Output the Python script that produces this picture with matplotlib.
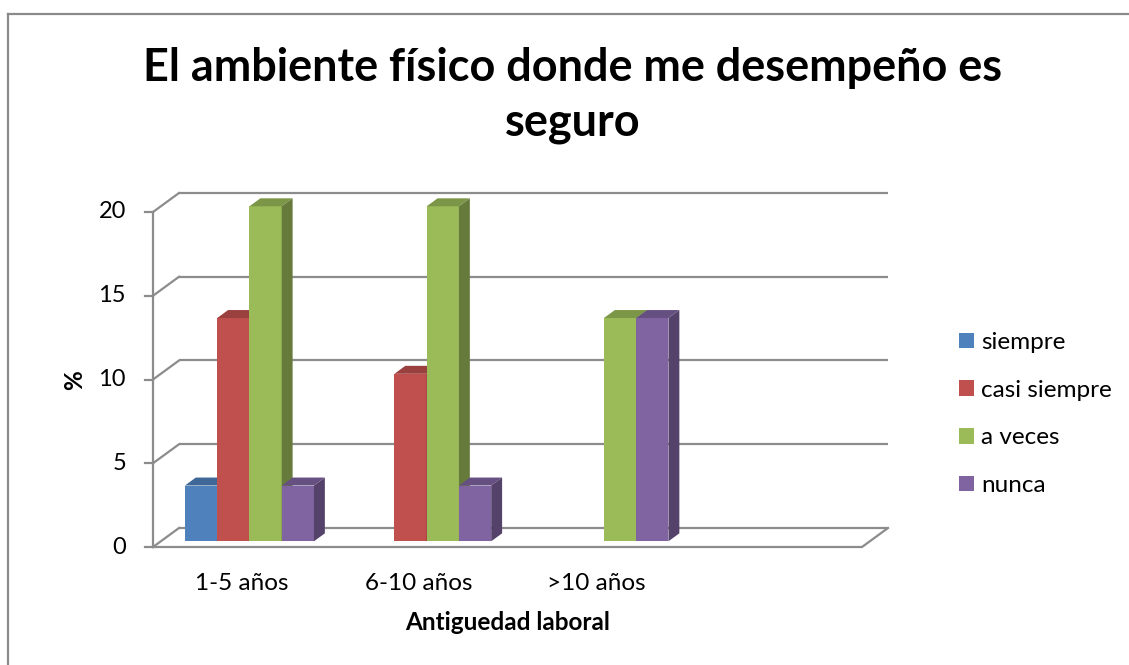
import matplotlib
matplotlib.use('Agg')
import matplotlib.pyplot as plt
from matplotlib.patches import Polygon
from matplotlib.lines import Line2D
import numpy as np

# ---------------- data ----------------
categories = ['1-5 años', '6-10 años', '>10 años']
series_names = ['siempre', 'casi siempre', 'a veces', 'nunca']
siempre = [3.33, 0, 0]
casi_siempre = [13.33, 10, 0]
a_veces = [20, 20, 13.33]
nunca = [3.33, 3.33, 13.33]
y_ticks = [0, 5, 10, 15, 20]
title_line1 = 'El ambiente físico donde me desempeño es'
title_line2 = 'seguro'
x_label = 'Antiguedad laboral'
y_label = '%'

series_values = [siempre, casi_siempre, a_veces, nunca]
colors = ['#4F81BD', '#C0504D', '#9BBB59', '#8064A2']

# ---------------- layout ----------------
W, H, DPI = 1129, 665, 100
FONT = 'Lato'
plt.rcParams['font.family'] = [FONT, 'DejaVu Sans']
FS = 17.5

fig = plt.figure(figsize=(W / DPI, H / DPI), dpi=DPI)
fig.patch.set_facecolor('white')
ax = fig.add_axes([0, 0, 1, 1])
ax.set_axis_off()

n_slots = 4                      # floor has room for 4 category slots
x0px, x1px = 153, 862            # front axis / front floor end (px)
y0px, y20px = 547, 212           # value 0 / value 20 on the front plane (px)
xu = (x1px - x0px) / n_slots
yu = (y0px - y20px) / 20.0
ax.set_xlim(-x0px / xu, (W - x0px) / xu)
ax.set_ylim(-(H - y0px) / yu, y0px / yu)

DX = 26 / xu                     # depth offset of the back wall
DY = 19 / yu
ymax = max(y_ticks)
grid_c = '#8c8c8c'
glw = 1.6

# back wall gridlines + diagonal side wall lines + ticks
for v in y_ticks:
    ax.plot([DX, n_slots + DX], [v + DY, v + DY], color=grid_c, lw=glw, zorder=1,
            solid_capstyle='butt')
    ax.plot([0, DX], [v, v + DY], color=grid_c, lw=glw, zorder=1)
    ax.plot([-8 / xu, 0], [v, v], color=grid_c, lw=glw, zorder=1)
    ax.text(-27 / xu, v, str(v), ha='right', va='center', fontsize=17,
            color='black')
# front vertical axis
ax.plot([0, 0], [0, ymax], color=grid_c, lw=glw, zorder=1)
# floor front edge and right diagonal
ax.plot([0, n_slots, n_slots + DX], [0, 0, DY], color=grid_c, lw=glw, zorder=2)

# ---------------- bars (pseudo 3-D) ----------------
w = 0.182                        # bar width in category units
f = 0.30                         # depth position of the bar front face
d = 0.42                         # bar depth fraction


def shade(c, k):
    rgb = np.array(matplotlib.colors.to_rgb(c))
    return tuple(rgb * k)


cats_x = np.arange(len(categories))
handles = []
for j, (vals, c) in enumerate(zip(series_values, colors)):
    xl = cats_x + 0.5 + (j - 2) * w + f * DX
    bottom = f * DY
    z = 3 + 2 * j
    bars = ax.bar(xl, vals, width=w, bottom=bottom, align='edge', color=c,
                  edgecolor='none', zorder=z, label=series_names[j])
    handles.append(bars)
    for xi, v in zip(xl, vals):
        if v <= 0:
            continue
        top = bottom + v
        ddx, ddy = d * DX, d * DY
        ax.add_patch(Polygon([(xi, top), (xi + w, top), (xi + w + ddx, top + ddy),
                              (xi + ddx, top + ddy)], closed=True,
                             facecolor=shade(c, 0.80), edgecolor='none', zorder=z + 0.2))
        ax.add_patch(Polygon([(xi + w, bottom), (xi + w + ddx, bottom + ddy),
                              (xi + w + ddx, top + ddy), (xi + w, top)], closed=True,
                             facecolor=shade(c, 0.66), edgecolor='none', zorder=z + 0.5))

# category labels
for i, lab in enumerate(categories):
    ax.text(i + 0.5, -(583 - y0px) / yu, lab, ha='center', va='center',
            fontsize=FS, color='black')

# axis titles
ax.text(n_slots / 2, -(622 - y0px) / yu, x_label, ha='center', va='center',
        fontsize=17.5, fontweight='bold', color='black')
fig.text(75 / W, 1 - 380 / H, y_label, rotation=90, ha='center', va='center',
         fontsize=17.5, fontweight='bold', color='black')

# title
t1 = fig.text(573 / W, 1 - 81 / H, title_line1, ha='center', va='baseline',
              fontsize=30, fontweight='bold', color='black')
t2 = fig.text(573 / W, 1 - 136 / H, title_line2, ha='center', va='baseline',
              fontsize=30, fontweight='bold', color='black')
fig.canvas.draw()
r = fig.canvas.get_renderer()
wt = t1.get_window_extent(r).width
fs = 30 * 860 / wt
t1.set_fontsize(fs)
t2.set_fontsize(fs)

# legend
leg = fig.legend(handles=handles, labels=series_names, loc='center left',
                 bbox_to_anchor=(959 / W, 1 - 414 / H), frameon=False,
                 fontsize=FS, handlelength=0.6, handleheight=0.6,
                 handletextpad=0.3, labelspacing=1.1, borderpad=0,
                 borderaxespad=0)

# chart area border (left and top visible)
fig.add_artist(Line2D([7.5 / W, 7.5 / W], [-0.01, 1 - 14 / H], color='#8a8a8a', lw=1.6))
fig.add_artist(Line2D([7.5 / W, 1.01], [1 - 14 / H, 1 - 14 / H], color='#8a8a8a', lw=1.6))

fig.savefig('out.png', dpi=DPI, facecolor='white')
